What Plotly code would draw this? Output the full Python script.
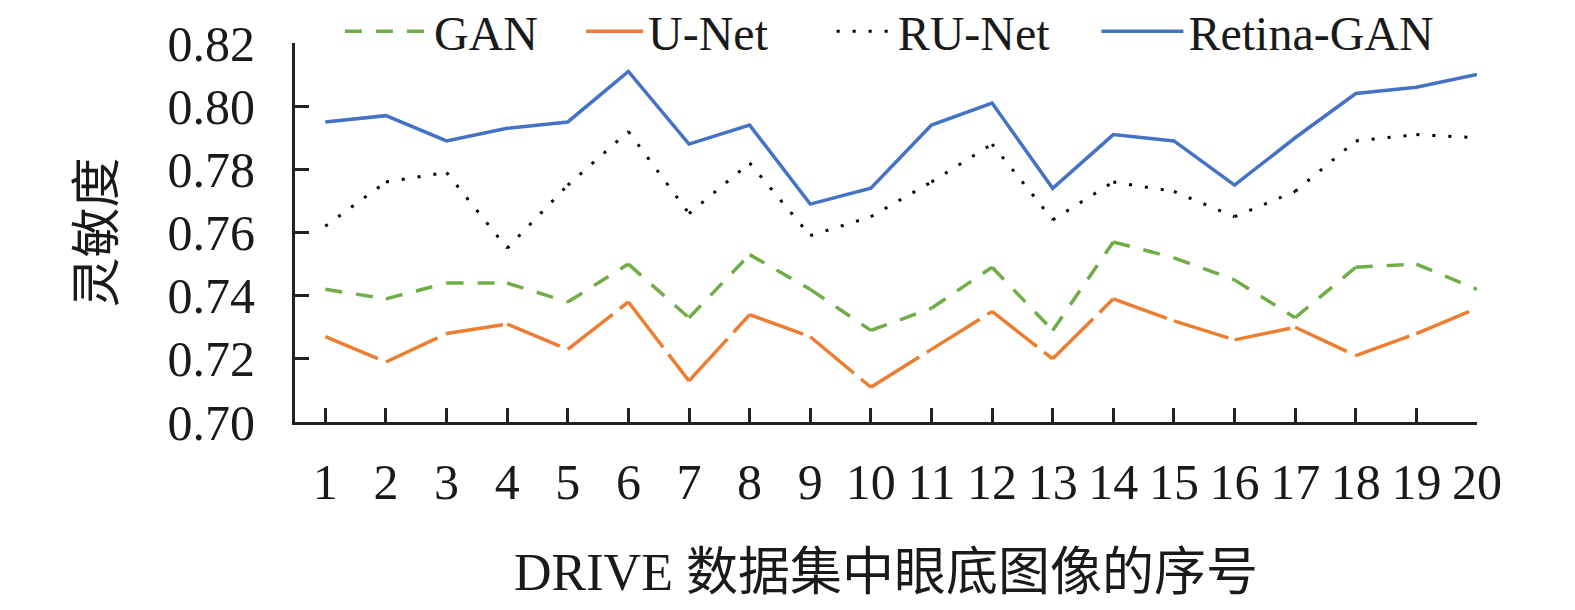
import plotly.graph_objects as go

# 图像序号与各模型灵敏度
images = list(range(1, 21))
gan = [0.742, 0.739, 0.744, 0.744, 0.738, 0.750, 0.733, 0.753, 0.742, 0.729,
       0.736, 0.749, 0.729, 0.757, 0.752, 0.745, 0.733, 0.749, 0.750, 0.742]
unet = [0.727, 0.719, 0.728, 0.731, 0.723, 0.738, 0.713, 0.734, 0.727, 0.711,
        0.723, 0.735, 0.720, 0.739, 0.732, 0.726, 0.730, 0.721, 0.728, 0.736]
runet = [0.762, 0.776, 0.779, 0.755, 0.775, 0.792, 0.766, 0.782, 0.759, 0.765,
         0.776, 0.788, 0.764, 0.776, 0.773, 0.765, 0.773, 0.789, 0.791, 0.790]
retina = [0.795, 0.797, 0.789, 0.793, 0.795, 0.811, 0.788, 0.794, 0.769, 0.774,
          0.794, 0.801, 0.774, 0.791, 0.789, 0.775, 0.790, 0.804, 0.806, 0.810]

yticks = [0.70, 0.72, 0.74, 0.76, 0.78, 0.80, 0.82]

FONT = "Liberation Serif, Times New Roman, Noto Sans CJK SC"
TEXT = "#1a1a1a"

# name, values, line style, legend id, legend x (paper), legend symbol width
series = [
    ("GAN", gan, dict(color="#70AD47", width=3.5, dash="17px,14px"), "legend", 0.038, 84),
    ("U-Net", unet, dict(color="#ED7D31", width=3.5, dash="57px,9px"), "legend2", 0.242, 57),
    ("RU-Net", runet, dict(color="#000000", width=3, dash="3px,13px"), "legend3", 0.454, 56),
    ("Retina-GAN", retina, dict(color="#4472C4", width=3.5), "legend4", 0.678, 82),
]

fig = go.Figure()

for name, vals, line, leg, _, _ in series:
    if "dash" not in line:
        fig.add_trace(go.Scatter(x=images, y=vals, name=name, mode="lines",
                                 line=line, legend=leg))
        continue
    # dash pattern restarts at every point, like the original chart
    for i in range(len(images) - 1):
        fig.add_trace(go.Scatter(
            x=images[i:i + 2], y=vals[i:i + 2], name=name, mode="lines",
            line=line, legend=leg, legendgroup=name, showlegend=(i == 0),
        ))

legends = {}
for name, _, _, leg, lx, iw in series:
    legends[leg] = dict(
        orientation="h",
        x=lx,
        xanchor="left",
        y=1.03,
        yanchor="middle",
        itemwidth=iw,
        font=dict(family=FONT, size=48, color=TEXT),
        bgcolor="rgba(0,0,0,0)",
    )

# page body keeps an 8px margin, so the figure is 16px smaller than the window
fig.update_layout(
    width=1559,
    height=594,
    margin=dict(l=287, r=90, t=35, b=180, autoexpand=False),
    paper_bgcolor="white",
    plot_bgcolor="white",
    font=dict(family=FONT, size=50, color=TEXT),
    **legends,
    xaxis=dict(
        range=[0.5, 20],
        tickmode="array",
        tickvals=images,
        ticktext=[str(i) for i in images],
        ticks="inside",
        ticklen=14,
        tickwidth=3,
        tickcolor="#222",
        showline=True,
        linewidth=3,
        linecolor="#222",
        showgrid=False,
        zeroline=False,
        automargin=False,
        ticklabelstandoff=14,
        tickfont=dict(family=FONT, size=50, color=TEXT),
        title=dict(text="DRIVE 数据集中眼底图像的序号", standoff=45,
                   font=dict(family=FONT, size=52, color=TEXT)),
    ),
    yaxis=dict(
        range=[0.70, 0.82],
        tickmode="array",
        tickvals=yticks,
        ticktext=[f"{v:.2f}" for v in yticks],
        ticks="inside",
        ticklen=14,
        tickwidth=3,
        tickcolor="#222",
        showline=True,
        linewidth=3,
        linecolor="#222",
        showgrid=False,
        zeroline=False,
        automargin=False,
        ticklabelstandoff=27,
        tickfont=dict(family=FONT, size=50, color=TEXT),
        title=dict(text="灵敏度", standoff=38,
                   font=dict(family=FONT, size=50, color=TEXT)),
    ),
)

fig.write_html("out.html")
